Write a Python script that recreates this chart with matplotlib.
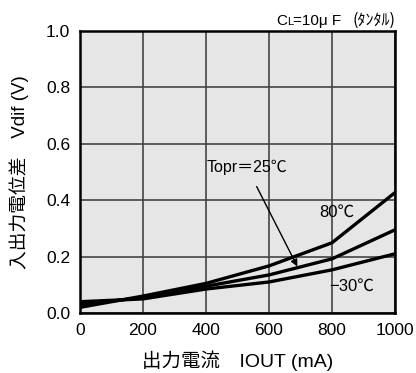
import matplotlib
matplotlib.use("Agg")
import matplotlib.pyplot as plt

plt.rcParams['font.family'] = ['Liberation Sans', 'Noto Sans CJK JP', 'DejaVu Sans']

# output current (mA) vs dropout voltage (V)
iout = [0, 200, 400, 600, 800, 1000]
vdif_80 = [0.02, 0.06, 0.105, 0.167, 0.249, 0.427]
vdif_25 = [0.03, 0.055, 0.095, 0.135, 0.192, 0.295]
vdif_m30 = [0.04, 0.05, 0.085, 0.11, 0.153, 0.21]

xticks = [0, 200, 400, 600, 800, 1000]
yticks = [0.0, 0.2, 0.4, 0.6, 0.8, 1.0]

fig = plt.figure(figsize=(4.16, 3.73), dpi=100)
ax = fig.add_axes([80 / 416, 1 - 313 / 373, 315 / 416, 282 / 373])
ax.set_facecolor('#e6e6e6')

for y in (vdif_80, vdif_25, vdif_m30):
    ax.plot(iout, y, color='black', lw=2.4, solid_capstyle='butt', zorder=3)

ax.set_xlim(0, 1000)
ax.set_ylim(0, 1.0)
ax.set_xticks(xticks)
ax.set_yticks(yticks)
ax.set_yticklabels([f'{v:.1f}' for v in yticks])
ax.grid(True, color='#444444', lw=1.2)
ax.tick_params(length=0, labelsize=12.5, pad=7)
for s in ax.spines.values():
    s.set_linewidth(1.8)
    s.set_color('black')

ax.annotate('Topr＝25℃', xy=(690, 0.165), xytext=(530, 0.516),
            fontsize=11.5, ha='center', va='center',
            arrowprops=dict(arrowstyle='-|>', color='black', lw=1.0,
                            shrinkA=7, shrinkB=0, mutation_scale=10))
ax.text(816, 0.356, '80℃', fontsize=12, ha='center', va='center')
ax.text(862, 0.096, '−30℃', fontsize=12, ha='center', va='center')

# load capacitor note, built from pieces so the small L and kana render
base = 1 - 25 / 373
fig.text(276 / 416, base, 'C', fontsize=11, va='baseline')
fig.text(287.5 / 416, base, 'L', fontsize=8, va='baseline')
fig.text(293 / 416, base, '=10μ F', fontsize=11, va='baseline')
fig.text(396 / 416, base, '(ﾀﾝﾀﾙ)', fontsize=11.5, ha='right', va='baseline',
         family=['Noto Sans CJK JP'])

ax.set_xlabel('出力電流　IOUT (mA)', fontsize=14, labelpad=9)
ax.set_ylabel('入出力電位差　Vdif (V)', fontsize=13.5, labelpad=12)

fig.savefig('out.png', dpi=100)
